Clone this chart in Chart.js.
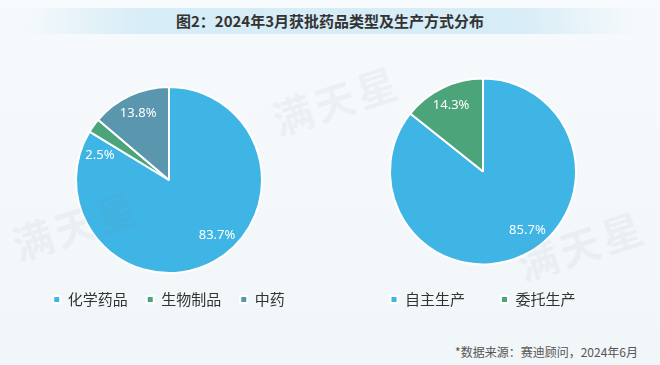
<!DOCTYPE html>
<html>
<head>
<meta charset="utf-8">
<script src="https://cdn.jsdelivr.net/npm/chart.js@4"></script>
<style>
  body { margin: 0; width: 660px; height: 365px; overflow: hidden; font-family: "Noto Sans CJK SC", sans-serif;
         background: linear-gradient(180deg, #f7fafc 0%, #f1f6f9 100%); position: relative; }
  .title { position: absolute; left: 20px; top: 8px; width: 620px; height: 26px; line-height: 26px; text-align: center;
           font-size: 15px; font-weight: bold; color: #333;
           background: linear-gradient(90deg, rgba(214,236,246,0) 0%, #d6ecf6 20%, #d6ecf6 80%, rgba(214,236,246,0) 100%); }
  .box { position: absolute; }
  .source { position: absolute; right: 22px; top: 343px; font-size: 12px; color: #555; }
  .wm { position: absolute; font-size: 40px; font-weight: bold; color: rgba(120,130,140,0.07); transform: rotate(-18deg);
        letter-spacing: 4px; pointer-events: none; }
</style>
</head>
<body>
<div class="title">图2：2024年3月获批药品类型及生产方式分布</div>
<div class="box" style="left:29px; top:70px; width:280px; height:247px;"><canvas id="typeChart"></canvas></div>
<div class="box" style="left:343px; top:70px; width:280px; height:247px;"><canvas id="modeChart"></canvas></div>
<div class="source">*数据来源：赛迪顾问，2024年6月</div>
<div class="wm" style="left:270px; top:70px;">满天星</div>
<div class="wm" style="left:10px; top:195px;">满天星</div>
<div class="wm" style="left:515px; top:215px;">满天星</div>
<script>
const typeLabels = ['化学药品', '生物制品', '中药'];
const typeValues = [83.7, 2.5, 13.8];
const typeColors = ['#3fb5e5', '#4ca57a', '#5a97af'];

const modeLabels = ['自主生产', '委托生产'];
const modeValues = [85.7, 14.3];
const modeColors = ['#3fb5e5', '#4ca57a'];

// white percentage text inside each slice
const sliceLabels = {
  id: 'sliceLabels',
  afterDatasetsDraw(chart) {
    const ctx = chart.ctx;
    const meta = chart.getDatasetMeta(0);
    const values = chart.data.datasets[0].data;
    ctx.save();
    ctx.fillStyle = '#fff';
    ctx.font = '13px "Noto Sans", sans-serif';
    ctx.textAlign = 'center';
    ctx.textBaseline = 'middle';
    meta.data.forEach((arc, i) => {
      const p = arc.getProps(['x', 'y', 'startAngle', 'endAngle', 'outerRadius']);
      let mid = (p.startAngle + p.endAngle) / 2;
      // tiny slices: nudge the label back onto the neighbouring slice
      if (values[i] < 5) mid -= 0.28;
      else if (values[i] > 50) mid -= 0.2;
      const d = p.outerRadius * 0.79;
      ctx.fillText(values[i].toFixed(1) + '%', p.x + Math.cos(mid) * d, p.y + Math.sin(mid) * d);
    });
    ctx.restore();
  }
};

function makePie(id, labels, values, colors, gap) {
  return new Chart(document.getElementById(id), {
    type: 'pie',
    data: { labels: labels, datasets: [{ data: values, backgroundColor: colors, borderColor: '#fff', borderWidth: 2, radius: 93 }] },
    options: {
      responsive: true,
      maintainAspectRatio: false,
      animation: false,
      layout: { padding: { top: 17 } },
      plugins: {
        tooltip: { enabled: false },
        legend: {
          position: 'bottom',
          labels: { boxWidth: 7, boxHeight: 7, padding: gap, color: '#333', font: { size: 15, family: '"Noto Sans CJK SC"' } }
        }
      }
    },
    plugins: [sliceLabels]
  });
}

makePie('typeChart', typeLabels, typeValues, typeColors, 19);
makePie('modeChart', modeLabels, modeValues, modeColors, 36);
</script>
</body>
</html>
